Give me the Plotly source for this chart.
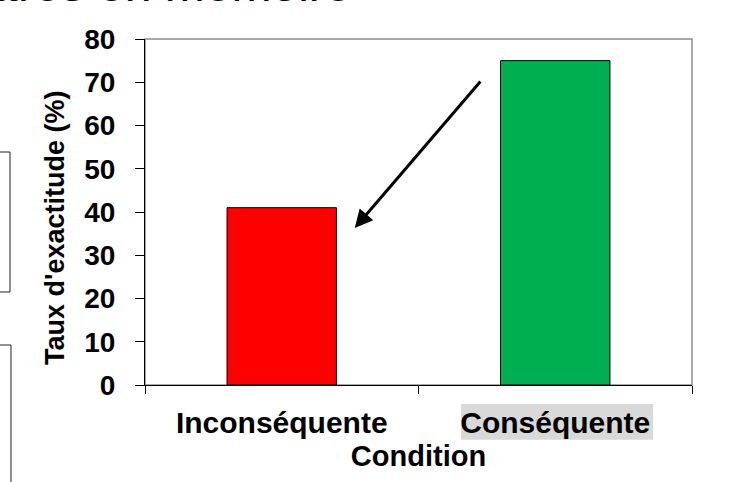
import plotly.graph_objects as go

conditions = ["Inconséquente", "Conséquente"]
accuracy = [41, 75]
bar_colors = ["#ff0000", "#00b050"]
y_ticks = [0, 10, 20, 30, 40, 50, 60, 70, 80]

FONT = "Liberation Sans, Arial, sans-serif"

fig = go.Figure(
    go.Bar(
        x=conditions,
        y=accuracy,
        width=0.4,
        marker=dict(color=bar_colors, line=dict(color="black", width=1)),
        showlegend=False
    )
)

# plot frame (gray top/right), highlighted tick label, cropped boxes on the left
fig.add_shape(type="rect", xref="paper", yref="paper", x0=0, x1=1, y0=0, y1=1,
              line=dict(color="#8c8c8c", width=1.5), layer="below")
fig.add_shape(type="rect", xref="paper", yref="paper", x0=0.578, x1=0.929,
              y0=-0.055, y1=-0.158, fillcolor="#d9d9d9", line_width=0, layer="below")
fig.add_shape(type="rect", xref="paper", yref="paper", x0=-0.30, x1=-0.2468,
              y0=0.2688, y1=0.6734, line=dict(color="#222222", width=1))
fig.add_shape(type="rect", xref="paper", yref="paper", x0=-0.30, x1=-0.245,
              y0=-0.40, y1=0.1156, line=dict(color="#222222", width=1))

# arrow from the green bar towards the red one
fig.add_annotation(x=0.267, y=36.3, ax=0.731, ay=70.5, xref="x", yref="y",
                   axref="x", ayref="y", text="", showarrow=True,
                   arrowhead=2, arrowsize=1.2, arrowwidth=3, arrowcolor="black")

# y axis title
fig.add_annotation(text="Taux d'exactitude (%)", xref="paper", yref="paper",
                   x=-0.1645, y=0.454, xanchor="center", yanchor="middle",
                   textangle=-90, showarrow=False,
                   font=dict(family=FONT, size=27, color="black", weight="bold"))

# slide title, cut by the top of the picture
fig.add_annotation(text="Lettres en mémoire", xref="paper", yref="paper",
                   x=0.38, y=1.077, xanchor="right", yanchor="bottom",
                   showarrow=False, borderpad=0,
                   font=dict(family=FONT, size=48, color="black"))

fig.update_layout(
    width=748,
    height=482,
    autosize=False,
    margin=dict(l=145, r=56, t=39, b=97),
    paper_bgcolor="white",
    plot_bgcolor="white",
    font=dict(family=FONT, color="black"),
    xaxis=dict(
        showline=True, linecolor="black", linewidth=1,
        ticks="outside", tickson="boundaries", ticklen=8, tickcolor="black",
        ticklabelstandoff=11,
        tickfont=dict(family=FONT, size=30, weight="bold"),
        title=dict(text="Condition", standoff=7,
                   font=dict(family=FONT, size=29, weight="bold")),
        showgrid=False
    ),
    yaxis=dict(
        range=[0, 80], tickvals=y_ticks,
        showline=True, linecolor="black", linewidth=1,
        ticks="outside", ticklen=9, tickcolor="black",
        ticklabelstandoff=14,
        tickfont=dict(family=FONT, size=28, weight="bold"),
        showgrid=False, zeroline=False
    )
)

# drop the default 8px body margin so the figure sits at the window corner
fig.write_html("out.html", config={"displayModeBar": False},
               post_script="document.body.style.margin = '0';")
